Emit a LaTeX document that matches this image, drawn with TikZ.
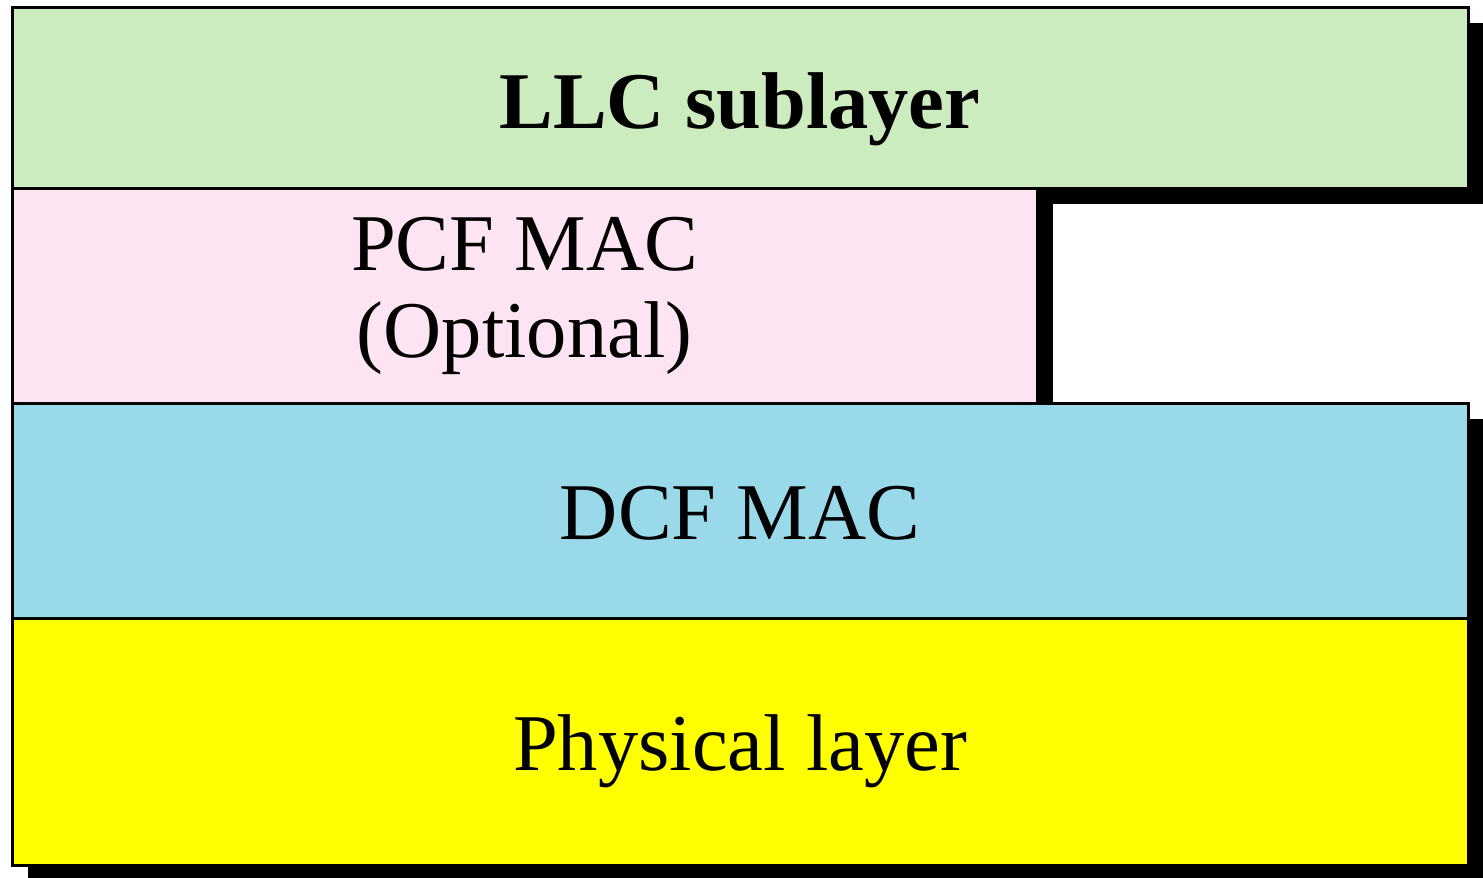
\documentclass[tikz,border=0pt]{standalone}
\usepackage{fontspec}
\setmainfont{Liberation Serif}
\usetikzlibrary{positioning,shadows}
\definecolor{llcgreen}{RGB}{204,235,190}
\definecolor{pcfpink}{RGB}{253,228,242}
\definecolor{dcfblue}{RGB}{153,217,234}
\definecolor{phyyellow}{RGB}{255,255,0}
\tikzset{
  lay_base/.style = {draw=black, line width=3pt, inner sep=0pt, outer sep=0pt,
    align=center, text centered, font=\fontsize{80.5}{87}\selectfont,
    drop shadow={shadow xshift=16pt, shadow yshift=-16pt, fill=black, opacity=1}},
  lay_line/.style = {text height=60pt, text depth=3pt},
  lay_llc/.style = {lay_base, fill=llcgreen, minimum width=1456pt, minimum height=181pt,
    text height=64pt, text depth=3pt},
  lay_pcf/.style = {lay_base, fill=pcfpink, minimum width=1025pt, minimum height=215pt},
  lay_dcf/.style = {lay_base, lay_line, fill=dcfblue, minimum width=1456pt, minimum height=215pt},
  lay_phy/.style = {lay_base, lay_line, fill=phyyellow, minimum width=1456pt, minimum height=247pt},
}
\begin{document}
\begin{tikzpicture}
  \useasboundingbox (0,0) rectangle (1483pt,-878pt);
  \node [lay_llc, anchor=north west] (llc) at (12pt,-7pt) {\bfseries LLC sublayer};
  \node [lay_pcf, below right=0pt and 0pt of llc.south west] (pcf) {PCF MAC\\(Optional)};
  \node [lay_dcf, below right=0pt and 0pt of pcf.south west] (dcf) {DCF MAC};
  \node [lay_phy, below right=0pt and 0pt of dcf.south west] (phy) {Physical layer};
\end{tikzpicture}
\end{document}
